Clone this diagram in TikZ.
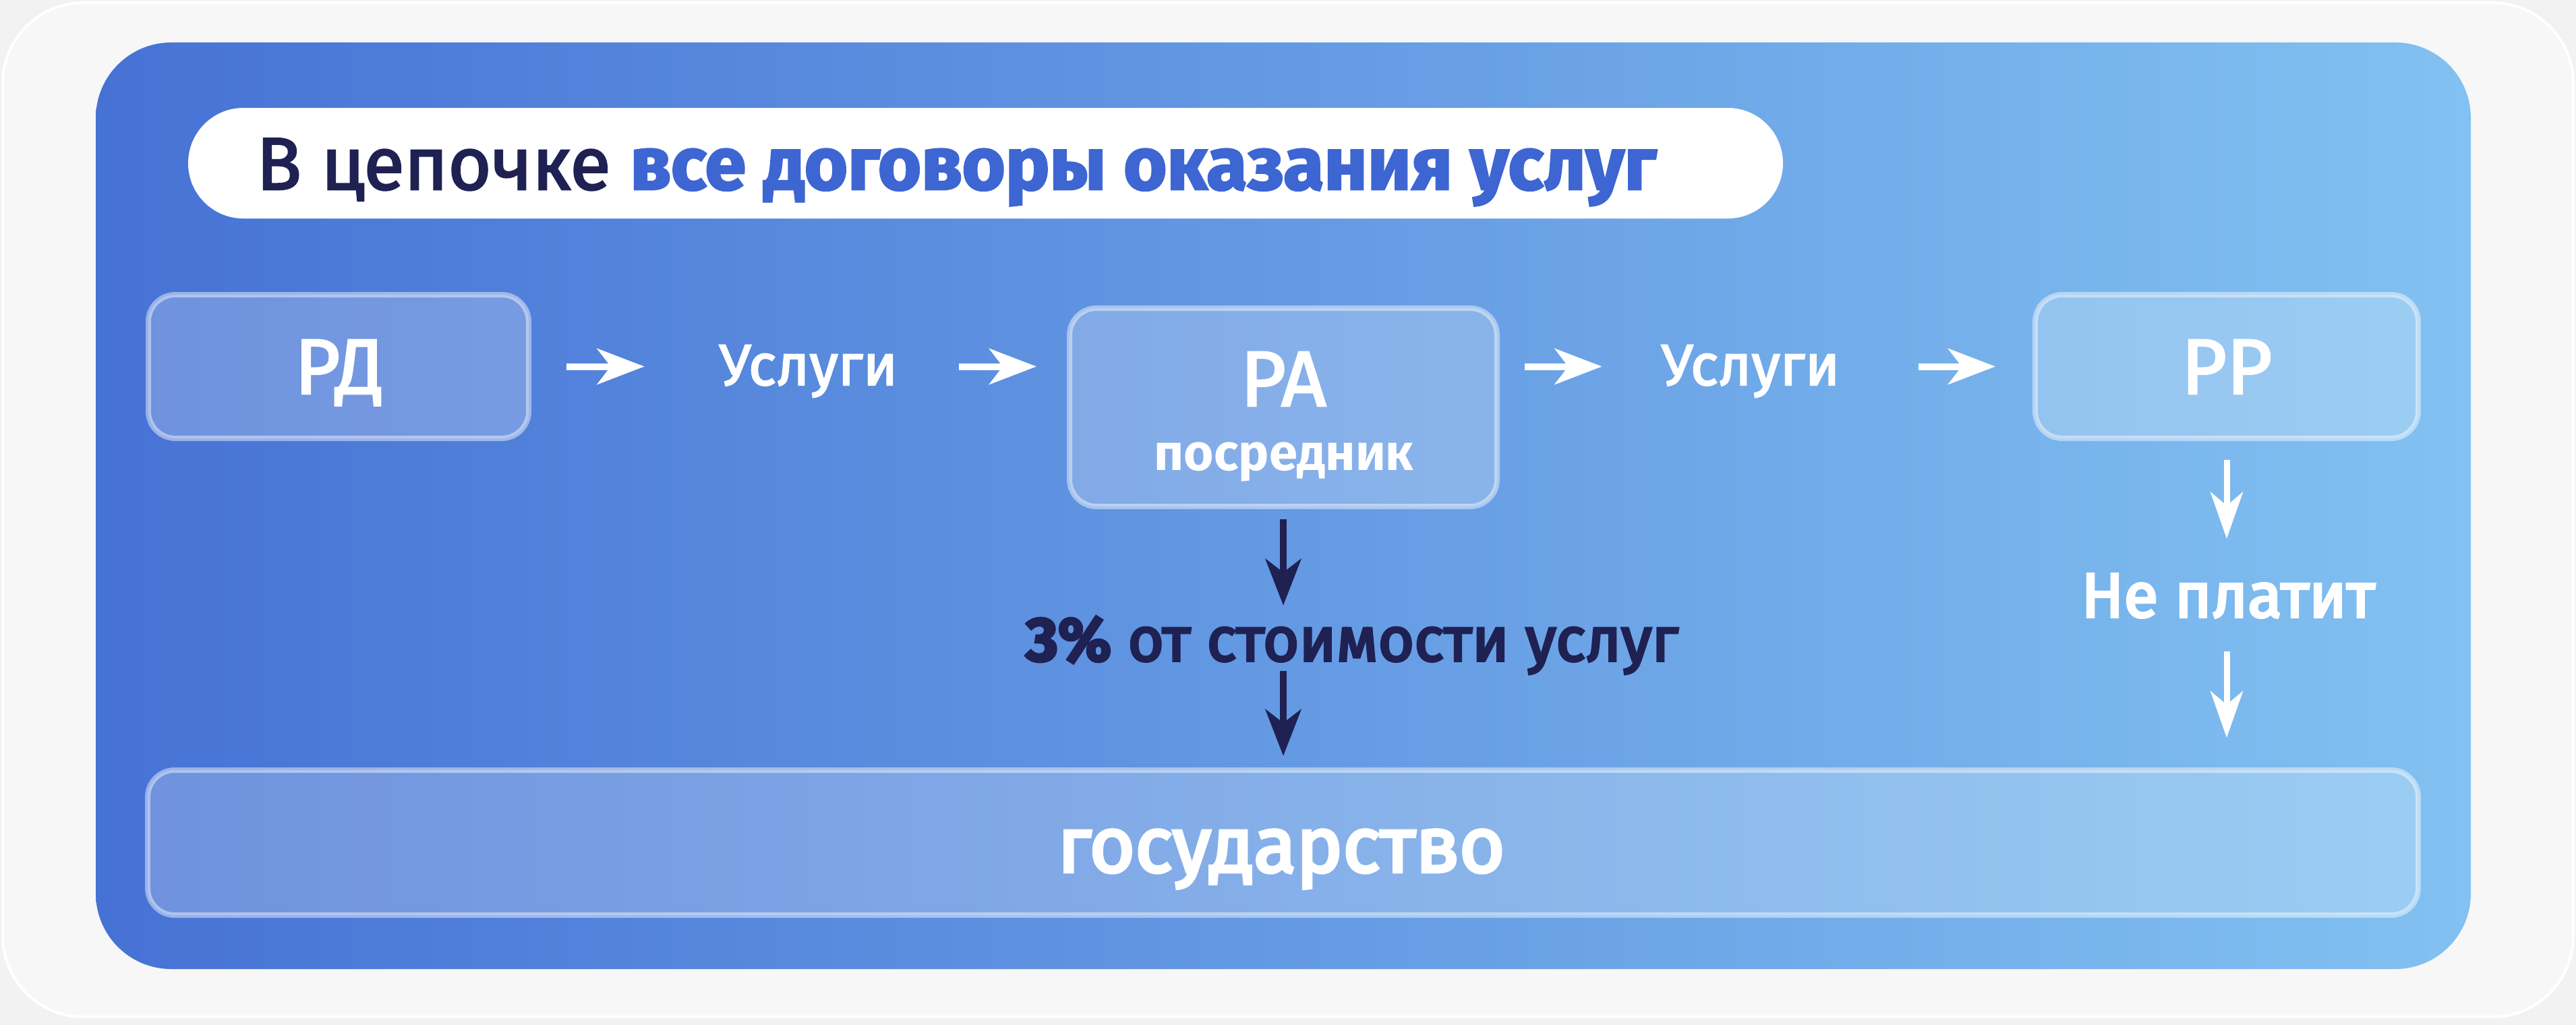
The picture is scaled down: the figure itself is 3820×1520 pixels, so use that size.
\documentclass[tikz,border=0pt]{standalone}
\usepackage{fontspec}
\setmainfont{Fira Sans}
\newfontfamily\fmed{Fira Sans}[FakeBold=2.5]
\newfontfamily\fsemi{Fira Sans}[FakeBold=4]
\usetikzlibrary{arrows.meta}
\definecolor{navy}{HTML}{1F2152}
\definecolor{titleblue}{HTML}{3D66D2}
\definecolor{bggray}{HTML}{F2F2F2}
\definecolor{cardgray}{HTML}{F7F7F7}
\definecolor{pl}{HTML}{4672D5}
\definecolor{pm}{HTML}{639BE0}
\definecolor{pr}{HTML}{82C1F1}
\tikzset{
  boxst/.style={draw=white, draw opacity=0.45, fill=white, fill opacity=0.22,
    line width=8pt, rounded corners=40pt, inner sep=0pt},
  pillst/.style={fill=white, rounded corners=82pt, inner sep=0pt},
  lbl/.style={anchor=base, inner sep=0pt, text=white},
  harrow/.style={draw=white, line width=10pt, -{Stealth[length=70pt, width=53pt, inset=20pt]}},
  vdark/.style={draw=navy, line width=10pt, -{Stealth[length=69pt, width=53pt, inset=20pt]}},
  vwhite/.style={draw=white, line width=9pt, -{Stealth[length=69pt, width=48pt, inset=20pt]}}
}
\begin{document}
\begin{tikzpicture}[x=1pt,y=-1pt]
\useasboundingbox (0,0) rectangle (3820,1520);
\fill[bggray] (0,0) rectangle (3820,1520);
\draw[fill=cardgray, draw=white, line width=4pt, rounded corners=120pt] (4,4) rectangle (3816,1508);
\shade[left color=pl, middle color=pm, right color=pr, rounded corners=112pt] (142,63) rectangle (3664,1437);

% title pill
\node[pillst, minimum width=2365pt, minimum height=164pt] (pill) at (1461.5,242) {};
\node[anchor=base west, inner sep=0pt] (ttl) at (380,281)
  {\fontsize{110pt}{122pt}\selectfont\fmed\color{navy}В цепочке \bfseries\color{titleblue}все договоры оказания услуг};

% boxes
\node[boxst, minimum width=564pt, minimum height=213pt] (rd) at (502,543.5) {};
\node[boxst, minimum width=634pt, minimum height=294pt] (ra) at (1903,604) {};
\node[boxst, minimum width=568pt, minimum height=213pt] (rr) at (3302,543.5) {};
\node[boxst, minimum width=3367pt, minimum height=215pt] (gov) at (1902.5,1249.5) {};

% box labels
\node[lbl, font=\fontsize{116pt}{130pt}\selectfont\fmed] (rdt) at (503,584) {РД};
\node[lbl, font=\fontsize{116pt}{130pt}\selectfont\fmed] (rat) at (1903,602) {РА};
\node[lbl, font=\fontsize{76pt}{86pt}\selectfont\bfseries] (rap) at (1904,697) {посредник};
\node[lbl, font=\fontsize{116pt}{128pt}\selectfont\fsemi] (govt) at (1900,1293) {государство};
\node[lbl, font=\fontsize{116pt}{130pt}\selectfont\fmed] (rrt) at (3302,584) {РР};

% flow labels
\node[lbl, minimum width=260pt, font=\fontsize{86pt}{96pt}\selectfont\fmed] (u1) at (1199,571) {Услуги};
\node[lbl, minimum width=260pt, font=\fontsize{86pt}{96pt}\selectfont\fmed] (u2) at (2596,571) {Услуги};
\node[lbl, text=navy, text height=64pt, text depth=0pt, font=\fontsize{92pt}{104pt}\selectfont\fsemi] (t3) at (2005,980) {{\bfseries 3\%} от стоимости услуг};
\node[lbl, text height=65pt, text depth=0pt, font=\fontsize{93pt}{104pt}\selectfont\fsemi] (np) at (3304,915) {Не платит};

% horizontal arrows
\draw[harrow, shorten <=52pt, shorten >=111pt] (rd.east) -- (rd.east -| u1.west);
\draw[harrow, shorten <=91pt, shorten >=45pt] (u1.east |- rd.east) -- (ra.west |- rd.east);
\draw[harrow, shorten <=37pt, shorten >=88pt] (ra.east |- rd.east) -- (u2.west |- rd.east);
\draw[harrow, shorten <=117pt, shorten >=55pt] (u2.east |- rd.east) -- (rr.west |- rd.east);

% vertical arrows
\draw[vdark, shorten <=15pt, shorten >=18pt] (ra.south) -- (ra.south |- t3.north);
\draw[vdark, shorten <=15pt, shorten >=17pt] (t3.south -| ra.south) -- (ra.south |- gov.north);
\draw[vwhite, shorten <=28pt, shorten >=51pt] (rr.south) -- (rr.south |- np.north);
\draw[vwhite, shorten <=51pt, shorten >=44pt] (np.south -| rr.south) -- (rr.south |- gov.north);
\end{tikzpicture}
\end{document}
